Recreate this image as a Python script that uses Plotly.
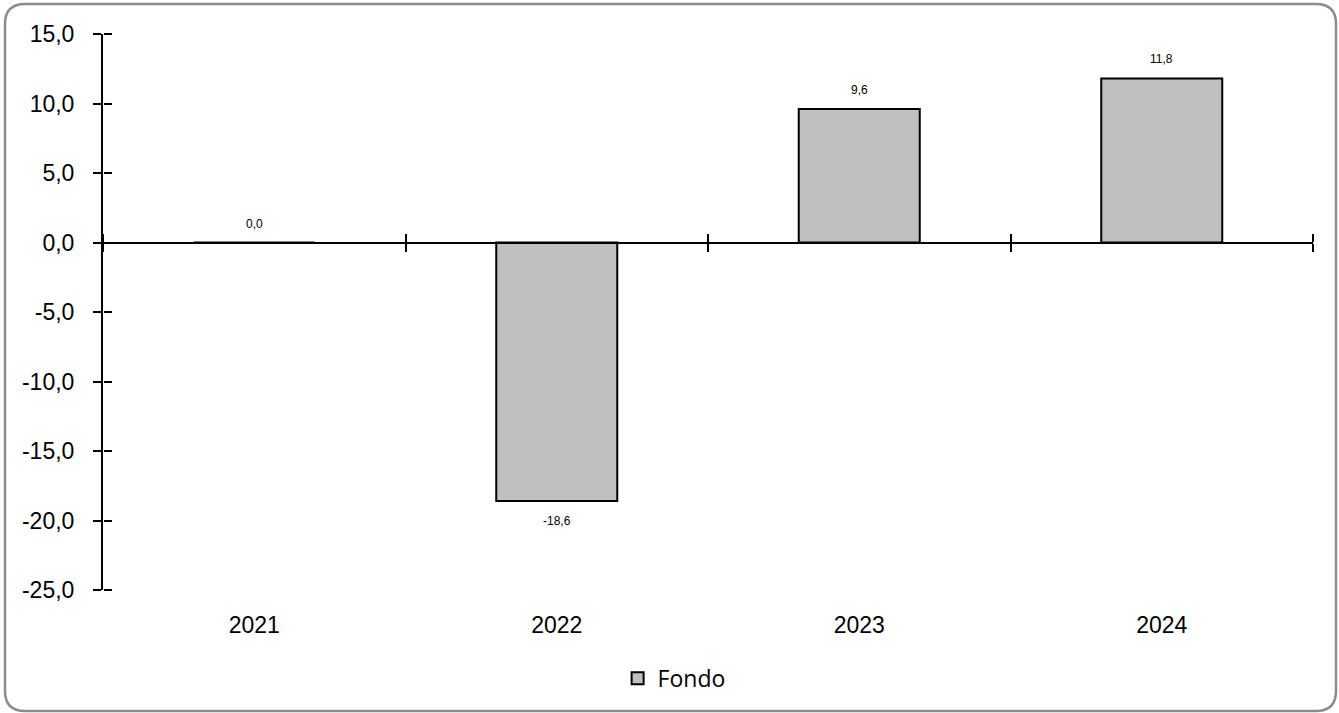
import plotly.graph_objects as go

categories = ["2021", "2022", "2023", "2024"]
values = [0.0, -18.6, 9.6, 11.8]
series_name = "Fondo"
y_ticks = [-25, -20, -15, -10, -5, 0, 5, 10, 15]
y_tick_labels = ["-25,0", "-20,0", "-15,0", "-10,0", "-5,0", "0,0", "5,0", "10,0", "15,0"]
value_labels = ["0,0", "-18,6", "9,6", "11,8"]

W, H = 1339, 713
ml, mr, mt, mb = 103, 26, 34, 123
y_min, y_max = -25, 15

fig = go.Figure()
fig.add_trace(go.Bar(
    x=categories, y=values, name=series_name,
    marker=dict(color="#C0C0C0", line=dict(color="black", width=2)),
    width=0.4, showlegend=True, hoverinfo="x+y",
))
# invisible helper traces so the overlay axes are drawn
fig.add_trace(go.Scatter(x=[None], y=[None], xaxis="x2", yaxis="y", showlegend=False, hoverinfo="skip"))
fig.add_trace(go.Scatter(x=[None], y=[None], xaxis="x3", yaxis="y", showlegend=False, hoverinfo="skip"))
fig.add_trace(go.Scatter(x=[None], y=[None], xaxis="x", yaxis="y2", showlegend=False, hoverinfo="skip"))

# data labels (x given as category index)
for i, (v, t) in enumerate(zip(values, value_labels)):
    fig.add_annotation(
        x=i, y=v, xref="x", yref="y", text=t, showarrow=False,
        yshift=19 if v >= 0 else -20,
        font=dict(family="Liberation Sans", size=12, color="black"),
    )

zero_pos = (0 - y_min) / (y_max - y_min)
boundaries = [i - 0.5 for i in range(len(categories) + 1)]

axis_common = dict(range=[-0.5, len(categories) - 0.5], showgrid=False, zeroline=False,
                   showticklabels=False, tickvals=boundaries, tickcolor="black",
                   tickwidth=2, ticklen=8, showline=True, linecolor="black", linewidth=2,
                   ticks="outside", anchor="free", position=zero_pos, overlaying="x")

fig.update_layout(
    width=W, height=H,
    margin=dict(l=ml, r=mr, t=mt, b=mb),
    paper_bgcolor="white", plot_bgcolor="white",
    separators=",.",
    xaxis=dict(type="category", range=[-0.5, len(categories) - 0.5], showgrid=False,
               zeroline=False, showline=False, ticks="outside", ticklen=14,
               tickcolor="rgba(0,0,0,0)",
               tickfont=dict(family="Liberation Sans", size=23, color="black")),
    xaxis2=dict(side="bottom", **axis_common),
    xaxis3=dict(side="top", **axis_common),
    yaxis=dict(range=[y_min, y_max], tickvals=y_ticks, ticktext=y_tick_labels,
               showgrid=False, zeroline=False, showline=True, linecolor="black",
               linewidth=2, ticks="outside", ticklen=8, tickwidth=2, tickcolor="black",
               ticklabelstandoff=14,
               tickfont=dict(family="Liberation Sans", size=23, color="black")),
    yaxis2=dict(overlaying="y", anchor="free", position=0, side="right", range=[y_min, y_max],
                tickvals=y_ticks, showticklabels=False, showgrid=False, zeroline=False,
                showline=False, ticks="outside", ticklen=8, tickwidth=2, tickcolor="black"),
    legend=dict(orientation="h", x=0.472, xanchor="center", y=-0.12, yanchor="top",
                font=dict(family="Open Sans", size=23, color="black")),
)

# rounded border around the chart area
pw = W - ml - mr
ph = H - mt - mb
def px(xp):
    return (xp - ml) / pw
def py(yp):
    return 1 - (yp - mt) / ph
x0, x1, y0, y1, r = 5, 1336, 4, 711, 20
path = (f"M {px(x0 + r)},{py(y0)} L {px(x1 - r)},{py(y0)} "
        f"Q {px(x1)},{py(y0)} {px(x1)},{py(y0 + r)} "
        f"L {px(x1)},{py(y1 - r)} Q {px(x1)},{py(y1)} {px(x1 - r)},{py(y1)} "
        f"L {px(x0 + r)},{py(y1)} Q {px(x0)},{py(y1)} {px(x0)},{py(y1 - r)} "
        f"L {px(x0)},{py(y0 + r)} Q {px(x0)},{py(y0)} {px(x0 + r)},{py(y0)} Z")
fig.add_shape(type="path", path=path, xref="paper", yref="paper",
              line=dict(color="#8C8C8C", width=2.5), layer="below")

fig.write_html("out.html", post_script="document.body.style.margin='0';",
               config={"displayModeBar": False})
